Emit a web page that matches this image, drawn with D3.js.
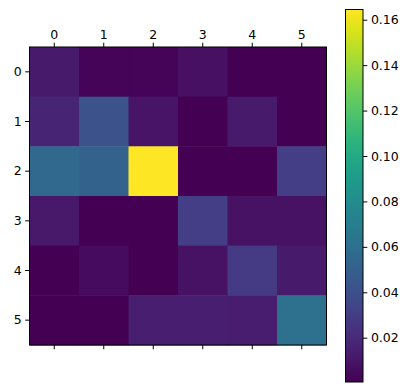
<!DOCTYPE html>
<html><head><meta charset="utf-8">
<script src="https://cdn.jsdelivr.net/npm/d3@7"></script>
<style>body{margin:0;background:#fff}svg{display:block}text{font-family:"DejaVu Sans",sans-serif}</style>
</head><body><svg id="c" width="413" height="392"></svg>
<script>
const rowLabels = ["0","1","2","3","4","5"];
const colLabels = ["0","1","2","3","4","5"];
const values = [
  [0.012, 0.002, 0.002, 0.007, 0.0005, 0.0005],
  [0.017, 0.042, 0.009, 0.0005, 0.012, 0.0005],
  [0.055, 0.052, 0.1645, 0.0005, 0.0005, 0.030],
  [0.011, 0.0005, 0.0005, 0.030, 0.008, 0.008],
  [0.0005, 0.005, 0.0005, 0.008, 0.029, 0.012],
  [0.0005, 0.0005, 0.014, 0.014, 0.013, 0.061]
];
const cbTicks = [0.02, 0.04, 0.06, 0.08, 0.10, 0.12, 0.14, 0.16];
const vmin = 0.0005, vmax = 0.1645;

const svg = d3.select("#c");
const L = 29.5, R = 326.5, T = 47, B = 345;
const x = d3.scaleBand().domain(colLabels).range([L, R]);
const y = d3.scaleBand().domain(rowLabels).range([T, B]);
const color = d3.scaleSequential(d3.interpolateViridis).domain([vmin, vmax]);

const cells = [];
values.forEach((row, i) => row.forEach((v, j) => cells.push({r: rowLabels[i], c: colLabels[j], v})));
svg.append("g").selectAll("rect").data(cells).join("rect")
  .attr("x", d => x(d.c)).attr("y", d => y(d.r))
  .attr("width", x.bandwidth() + 0.5).attr("height", y.bandwidth() + 0.5)
  .attr("fill", d => color(d.v));
svg.append("rect").attr("x", L).attr("y", T).attr("width", R - L).attr("height", B - T)
  .attr("fill", "none").attr("stroke", "#000").attr("stroke-width", 1);

const fs = "12.5px";
const tk = 4.3, pad = 3.6;
const axTop = svg.append("g").attr("transform", `translate(0,${T})`)
  .call(d3.axisTop(x).tickSize(tk).tickPadding(pad));
const axBot = svg.append("g").attr("transform", `translate(0,${B})`)
  .call(d3.axisBottom(x).tickSize(tk).tickFormat(""));
const axLeft = svg.append("g").attr("transform", `translate(${L},0)`)
  .call(d3.axisLeft(y).tickSize(tk).tickPadding(pad));
[axTop, axBot, axLeft].forEach(g => {
  g.select(".domain").remove();
  g.selectAll("text").style("font-size", fs).attr("fill", "#000");
  g.selectAll("line").attr("stroke", "#000");
});

// colorbar
const cbX = 345.5, cbW = 17.5, cbT = 9.5, cbB = 382;
const cy = d3.scaleLinear().domain([vmin, vmax]).range([cbB, cbT]);
const defs = svg.append("defs");
const grad = defs.append("linearGradient").attr("id", "vg")
  .attr("x1", 0).attr("y1", 1).attr("x2", 0).attr("y2", 0);
d3.range(0, 1.0001, 0.05).forEach(t => grad.append("stop")
  .attr("offset", t).attr("stop-color", d3.interpolateViridis(t)));
svg.append("rect").attr("x", cbX).attr("y", cbT).attr("width", cbW).attr("height", cbB - cbT)
  .attr("fill", "url(#vg)").attr("stroke", "#000").attr("stroke-width", 1);
const axCb = svg.append("g").attr("transform", `translate(${cbX + cbW},0)`)
  .call(d3.axisRight(cy).tickValues(cbTicks).tickSize(tk).tickPadding(pad)
    .tickFormat(d3.format(".2f")));
axCb.select(".domain").remove();
axCb.selectAll("text").style("font-size", fs).attr("fill", "#000");
axCb.selectAll("line").attr("stroke", "#000");
</script></body></html>
